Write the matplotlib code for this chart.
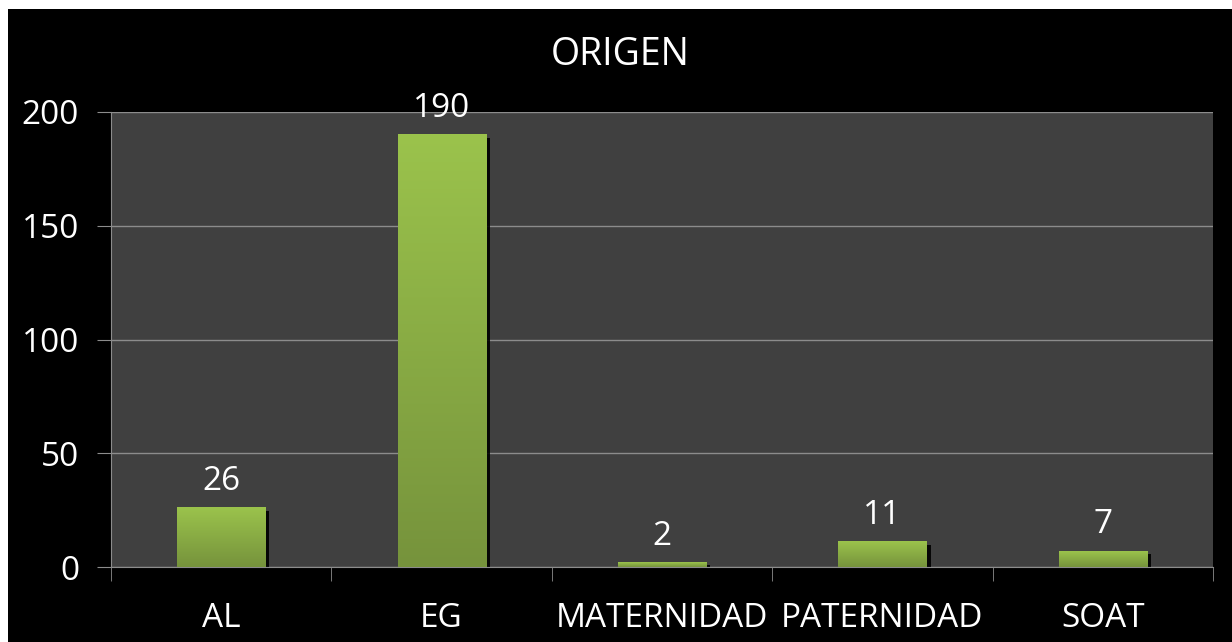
import numpy as np
import matplotlib
matplotlib.use("Agg")
from matplotlib import pyplot as plt
from matplotlib.patches import Rectangle
from matplotlib.colors import LinearSegmentedColormap
import matplotlib.patheffects as pe

categories = ["AL", "EG", "MATERNIDAD", "PATERNIDAD", "SOAT"]
values = [26, 190, 2, 11, 7]
yticks = [0, 50, 100, 150, 200]

plt.rcParams['font.family'] = ['Open Sans', 'DejaVu Sans']

W, H = 1232, 642
fig = plt.figure(figsize=(W / 100, H / 100), dpi=100, facecolor="white")
# black chart area with a thin white margin at top/left
fig.patches.append(Rectangle((8 / W, 0), 1, 1 - 9 / H, transform=fig.transFigure,
                             facecolor="black", edgecolor="none", zorder=-10))

ax = fig.add_axes([111 / W, 1 - 567 / H, (1213 - 111) / W, (567 - 112) / H])
ax.set_facecolor("#404040")

x = np.arange(len(categories))
bars = ax.bar(x, values, width=0.4, color="#8db445", zorder=2,
              path_effects=[pe.SimplePatchShadow(offset=(3, -2), shadow_rgbFace="black", alpha=0.9),
                            pe.Normal()])

cmap = LinearSegmentedColormap.from_list("g", ["#76933c", "#9bc34c"])
grad = np.linspace(0, 1, 256).reshape(-1, 1)
for b in bars:
    x0, y0, w, h = b.get_x(), b.get_y(), b.get_width(), b.get_height()
    ax.imshow(grad, cmap=cmap, origin="lower", aspect="auto",
              extent=(x0, x0 + w, y0, y0 + h), zorder=3)

ax.set_xlim(-0.5, len(categories) - 0.5)
ax.set_ylim(0, 200)

ax.bar_label(bars, labels=[str(v) for v in values], padding=7, color="white",
             fontsize=24, zorder=4)

ax.set_yticks(yticks)
ax.set_yticklabels([str(t) for t in yticks])
ax.set_xticks(x)
ax.set_xticklabels(categories)
ax.set_xticks(np.arange(len(categories) + 1) - 0.5, minor=True)

ax.grid(axis="y", color="#8c8c8c", linewidth=1, zorder=1)
ax.set_axisbelow(True)

ax.tick_params(axis="y", colors="#8c8c8c", labelcolor="white", labelsize=24,
               length=10, pad=13)
ax.tick_params(axis="x", which="major", length=0, labelcolor="white",
               labelsize=24, pad=25)
ax.tick_params(axis="x", which="minor", length=10, color="#8c8c8c")

for s in ["top", "right"]:
    ax.spines[s].set_visible(False)
ax.spines["left"].set_color("#8c8c8c")
ax.spines["bottom"].set_color("#8c8c8c")

fig.text(620 / W, 1 - 55 / H, "ORIGEN", color="white", fontsize=27,
         ha="center", va="center")

fig.savefig("out.png", dpi=100, facecolor=fig.get_facecolor())
